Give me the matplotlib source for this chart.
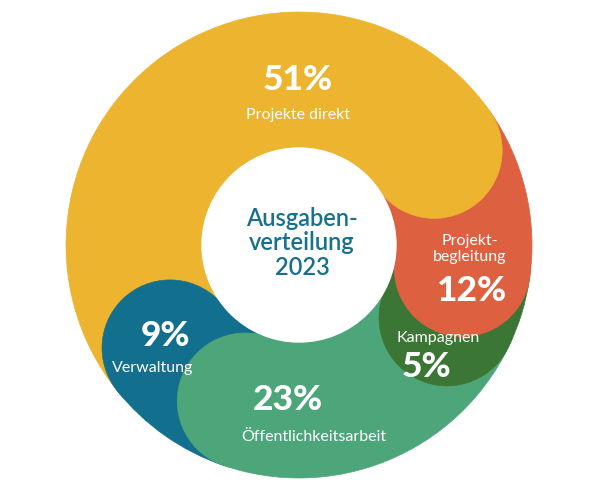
import numpy as np
import matplotlib
matplotlib.use("Agg")
import matplotlib.pyplot as plt
from matplotlib.patches import Wedge, Circle

# ---- data ----
categories = ["Projekte direkt", "Projekt-\nbegleitung", "Kampagnen", "Öffentlichkeitsarbeit", "Verwaltung"]
values = [51, 12, 5, 23, 9]
pct_labels = ["51%", "12%", "5%", "23%", "9%"]
colors = ["#ECB42F", "#DD6140", "#3C7634", "#4CA67A", "#136F8E"]
center_title = "Ausgaben-\nverteilung\n2023"

# ---- layout ----
W, H = 592, 497
CX, CY = 299, 245
R_OUT, R_IN = 233, 97
WIDTH = R_OUT - R_IN
R_MID = (R_OUT + R_IN) / 2
FIRST_END = 35.0  # math angle (deg) where the first segment ends; segments run clockwise

plt.rcParams['font.family'] = ['Lato', 'DejaVu Sans']
fig = plt.figure(figsize=(W / 100, H / 100), dpi=100)
ax = fig.add_axes([0, 0, 1, 1])
ax.set_xlim(0, W)
ax.set_ylim(H, 0)
ax.set_aspect('equal')
ax.axis('off')

total = float(sum(values))
spans = [v / total * 360.0 for v in values]
starts, ends = [], []
st = FIRST_END + spans[0]
for s in spans:
    starts.append(st)
    ends.append(st - s)
    st = st - s

def to_xy(r, ang):
    a = np.deg2rad(ang)
    return CX + r * np.cos(a), CY - r * np.sin(a)

# ring segments (flat ends); y axis is inverted, so screen angle a -> data angle -a
for s0, e0, c in zip(starts, ends, colors):
    ax.add_patch(Wedge((CX, CY), R_OUT, -s0, -e0, width=WIDTH, facecolor=c,
                       edgecolor=c, linewidth=0.5, zorder=1))

# rounded end caps, drawn last-to-first so each cap overlaps its successor
for k, i in enumerate(reversed(range(len(values)))):
    x, y = to_xy(R_MID, ends[i])
    ax.add_patch(Circle((x, y), WIDTH / 2, facecolor=colors[i], edgecolor=colors[i],
                        linewidth=0.5, zorder=2 + k))

ax.add_patch(Circle((CX, CY), R_IN, facecolor='white', edgecolor='white', zorder=10))

ax.text(302, 243, center_title, ha='center', va='center', fontsize=17, fontweight='semibold',
        color='#18708E', linespacing=1.1, zorder=11)

wc = 'white'
ps = 25.5
pw = 'black'
ls = 11.5
# Projekte direkt
ax.text(298, 80, pct_labels[0], ha='center', va='center', fontsize=ps, fontweight=pw, color=wc, zorder=20)
ax.text(298, 115, categories[0], ha='center', va='center', fontsize=ls, color=wc, zorder=20)
# Projektbegleitung
ax.text(470, 249, categories[1], ha='center', va='center', fontsize=ls, color=wc, linespacing=1.1, zorder=20)
ax.text(472, 291, pct_labels[1], ha='center', va='center', fontsize=ps, fontweight=pw, color=wc, zorder=20)
# Kampagnen
ax.text(438, 338, categories[2], ha='center', va='center', fontsize=ls, color=wc, zorder=20)
ax.text(426, 367, pct_labels[2], ha='center', va='center', fontsize=ps, fontweight=pw, color=wc, zorder=20)
# Öffentlichkeitsarbeit
ax.text(288, 400, pct_labels[3], ha='center', va='center', fontsize=ps, fontweight=pw, color=wc, zorder=20)
ax.text(314, 437, categories[3], ha='center', va='center', fontsize=ls, color=wc, zorder=20)
# Verwaltung
ax.text(166, 336, pct_labels[4], ha='center', va='center', fontsize=ps, fontweight=pw, color=wc, zorder=20)
ax.text(153, 368, categories[4], ha='center', va='center', fontsize=ls, color=wc, zorder=20)

fig.savefig("out.png", dpi=100, facecolor='white')
